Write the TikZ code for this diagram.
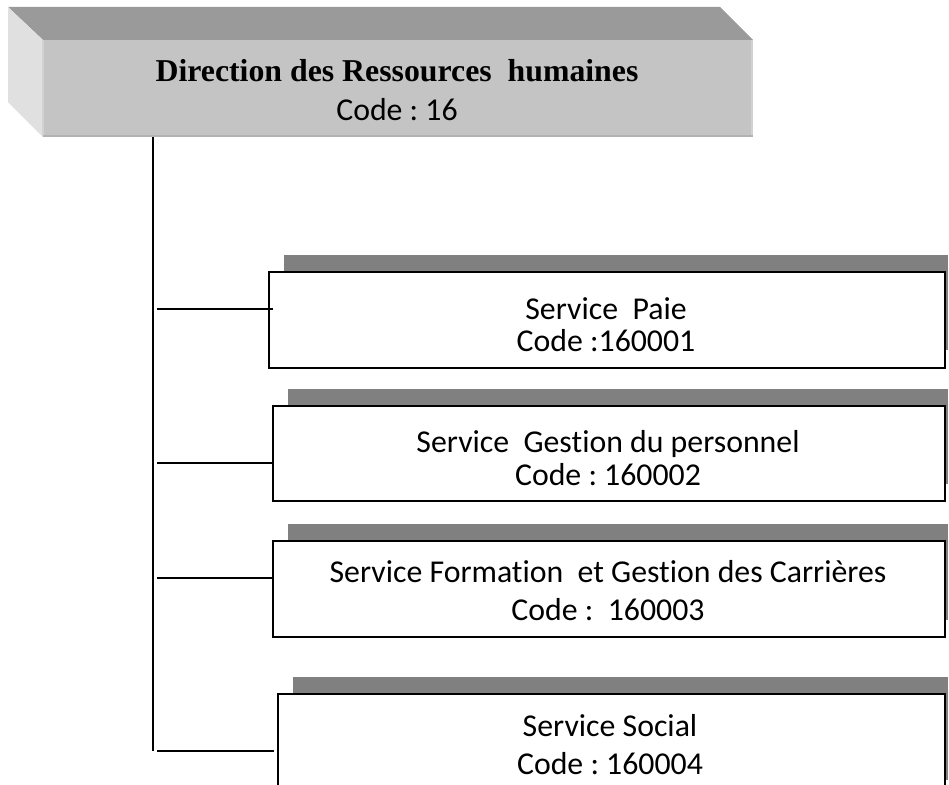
\documentclass[tikz,border=0pt]{standalone}
\usepackage{fontspec}
\setmainfont{Carlito}[Ligatures={NoCommon}]
\newfontfamily\tnr{Liberation Serif}
\definecolor{topface}{HTML}{9A9A9A}
\definecolor{frontface}{HTML}{C4C4C4}
\definecolor{leftface}{HTML}{E0E0E0}
\definecolor{edgedark}{HTML}{B2B2B2}
\definecolor{edgelight}{HTML}{D2D2D2}
\definecolor{shadowgray}{HTML}{808080}
\frenchspacing
\begin{document}
\begin{tikzpicture}[x=1pt,y=-1pt,
  svc/.style={draw=black,line width=1.8pt,fill=white,inner sep=0pt,anchor=north west},
  svctext/.style={anchor=base,inner sep=0pt,font=\fontsize{31.8}{34}\selectfont},
  shadowbox/.style={fill=shadowgray},
  conn/.style={line width=2pt,draw=black}]
\clip (0,0) rectangle (949,784);
% top bevelled box
\fill[topface] (8,7) -- (720,7) -- (753,40) -- (43,40) -- cycle;
\fill[leftface] (8,7) -- (43,40) -- (43,137) -- (8,102) -- cycle;
\node[fill=frontface,inner sep=0pt,anchor=north west,minimum width=710pt,minimum height=97pt] (dir) at (43,40) {};
\fill[edgelight] (750.5,40) rectangle (753,137);
\fill[edgedark] (43,134.5) rectangle (753,137);
\fill[edgelight] (41.5,40) rectangle (43.5,135);
\node[anchor=base,inner sep=0pt,font=\fontsize{31.8}{34}\bfseries\tnr] (dirt1) at (397,81) {Direction des Ressources\ \ humaines};
\node[svctext] (dirt2) at (397,120) {Code : 16};
% shadows
\fill[shadowbox] (284,255) rectangle (948,350);
\fill[shadowbox] (288,389) rectangle (948,484);
\fill[shadowbox] (288,524) rectangle (948,620);
\fill[shadowbox] (293,677) rectangle (948,780);
% service boxes
\node[svc,minimum width=676pt,minimum height=96pt] (s1) at (268,271) {};
\node[svc,minimum width=672pt,minimum height=95pt] (s2) at (272,405) {};
\node[svc,minimum width=672pt,minimum height=96pt] (s3) at (272,540) {};
\node[svc,minimum width=667pt,minimum height=120pt] (s4) at (277,693) {};
\node[svctext] (s1a) at (606,319) {Service\ \ Paie};
\node[svctext] (s1b) at (606,351) {Code :160001};
\node[svctext] (s2a) at (608,452) {Service\ \ Gestion du personnel};
\node[svctext] (s2b) at (608,485) {Code : 160002};
\node[svctext] (s3a) at (608,582) {Service Formation\ \ et Gestion des Carrières};
\node[svctext] (s3b) at (608,620) {Code :\ \ 160003};
\node[svctext] (s4a) at (610,736) {Service Social};
\node[svctext] (s4b) at (610,774) {Code : 160004};
% trunk and branches
\coordinate (trunkbot) at (152.5,751);
\draw[conn] (dir.south -| trunkbot) -- (trunkbot);
\coordinate (b1) at (157,309);
\coordinate (b2) at (157,463);
\coordinate (b3) at (157,578);
\coordinate (b4) at (157,751);
\draw[conn] (b1) -- ([xshift=5pt]b1 -| s1.west);
\draw[conn] (b2) -- (b2 -| s2.west);
\draw[conn] (b3) -- (b3 -| s3.west);
\draw[conn] (b4) -- ([xshift=-3pt]b4 -| s4.west);
\end{tikzpicture}
\end{document}
